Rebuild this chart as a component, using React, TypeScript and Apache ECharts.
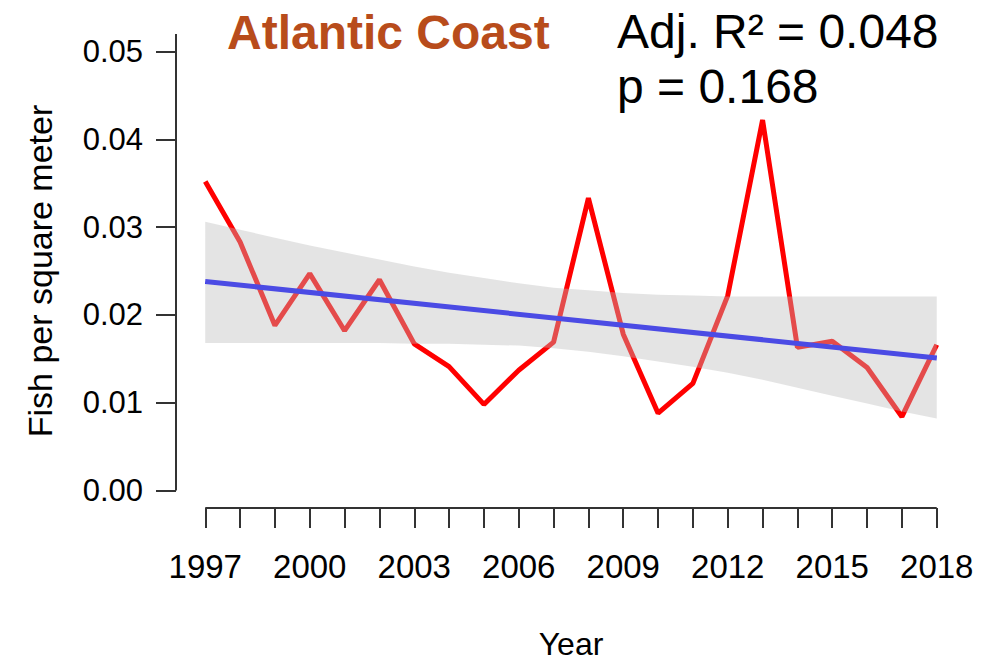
import React, { useEffect, useRef } from "react";
import * as echarts from "echarts";

const years = [1997, 1998, 1999, 2000, 2001, 2002, 2003, 2004, 2005, 2006, 2007, 2008, 2009, 2010, 2011, 2012, 2013, 2014, 2015, 2016, 2017, 2018];
const density = [0.0352, 0.0283, 0.0188, 0.0247, 0.0182, 0.024, 0.0167, 0.0141, 0.0098, 0.0137, 0.0169, 0.0333, 0.0178, 0.0088, 0.0122, 0.0222, 0.0422, 0.0163, 0.017, 0.014, 0.0084, 0.0166];
const trendYears = [1997, 2018];
const trendValues = [0.0238, 0.0151];
const ciUpper = [0.0306, 0.0297, 0.0288, 0.0279, 0.0271, 0.0263, 0.0255, 0.0248, 0.0242, 0.0236, 0.0231, 0.0228, 0.0225, 0.0223, 0.0222, 0.0221, 0.0221, 0.0221, 0.0221, 0.0221, 0.0221, 0.0221];
const ciLower = [0.0168, 0.0168, 0.0168, 0.0168, 0.0168, 0.0168, 0.0167, 0.0167, 0.0166, 0.0165, 0.0162, 0.0158, 0.0153, 0.0147, 0.0141, 0.0134, 0.0126, 0.0117, 0.0108, 0.0099, 0.009, 0.0082];
const yTicks = [0, 0.01, 0.02, 0.03, 0.04, 0.05];
const xLabelYears = [1997, 2000, 2003, 2006, 2009, 2012, 2015, 2018];
const titleText = "Atlantic Coast";
const statsText = "Adj. R² = 0.048\np = 0.168";

const FONT = "'Liberation Sans', Arial, Helvetica, sans-serif";

export default function App() {
  const ref = useRef<HTMLDivElement>(null);
  useEffect(() => {
    if (!ref.current) return;
    const chart = echarts.init(ref.current, undefined, { renderer: "svg" });
    const span = years[years.length - 1] - years[0];
    const xMin = years[0] - 0.04 * span;
    const xMax = years[years.length - 1] + 0.04 * span;
    const yMin = -0.002;
    const yMax = 0.052;
    const bandData = years.map((y, i) => [y, ciLower[i], ciUpper[i]]);
    chart.setOption({
      animation: false,
      backgroundColor: "#ffffff",
      textStyle: { fontFamily: FONT },
      title: {
        text: titleText,
        left: 222,
        top: 3,
        textStyle: { fontFamily: FONT, fontSize: 48, fontWeight: "bold", color: "#B84C1B" },
      },
      grid: { left: 176, right: 30, top: 34, bottom: 155 },
      xAxis: {
        type: "value",
        min: xMin,
        max: xMax,
        name: "Year",
        nameLocation: "middle",
        nameGap: 120,
        nameTextStyle: { fontFamily: FONT, fontSize: 32, color: "#000" },
        axisLine: { show: false, onZero: false },
        splitLine: { show: false },
        axisTick: { show: true, length: 20, customValues: years, lineStyle: { color: "#333", width: 2 } },
        axisLabel: {
          customValues: xLabelYears,
          margin: 42,
          fontFamily: FONT,
          fontSize: 33,
          color: "#000",
          formatter: (v: number) => String(Math.round(v)),
        },
      },
      yAxis: {
        type: "value",
        min: yMin,
        max: yMax,
        name: "Fish per square meter",
        nameLocation: "middle",
        nameRotate: 90,
        nameGap: 119,
        nameTextStyle: { fontFamily: FONT, fontSize: 34, color: "#000" },
        axisLine: { show: false, onZero: false },
        splitLine: { show: false },
        axisTick: { show: true, length: 20, customValues: yTicks, lineStyle: { color: "#333", width: 2 } },
        axisLabel: {
          customValues: yTicks,
          margin: 33,
          fontFamily: FONT,
          fontSize: 31,
          color: "#000",
          formatter: (v: number) => v.toFixed(2),
        },
      },
      series: [
        {
          type: "line",
          data: years.map((y, i) => [y, density[i]]),
          showSymbol: false,
          symbol: "none",
          lineStyle: { color: "#FF0000", width: 5 },
          z: 2,
        },
        {
          type: "line",
          data: trendYears.map((y, i) => [y, trendValues[i]]),
          showSymbol: false,
          symbol: "none",
          lineStyle: { color: "#0000FF", width: 5 },
          z: 2,
        },
        {
          type: "custom",
          z: 3,
          data: bandData,
          encode: { x: 0, y: [1, 2] },
          renderItem: (params: any, api: any) => {
            if (params.dataIndex !== 0) return null;
            const top = bandData.map((d) => api.coord([d[0], d[2]]));
            const bottom = bandData.map((d) => api.coord([d[0], d[1]])).reverse();
            return {
              type: "polygon",
              shape: { points: top.concat(bottom) },
              style: { fill: "rgba(187,187,187,0.4)", stroke: "none" },
            };
          },
        },
      ],
    });

    const pTop = chart.convertToPixel({ gridIndex: 0 }, [xMin, yMax]) as number[];
    const pZero = chart.convertToPixel({ gridIndex: 0 }, [xMin, yTicks[0]]) as number[];
    const pX0 = chart.convertToPixel({ gridIndex: 0 }, [years[0], yMin]) as number[];
    const pX1 = chart.convertToPixel({ gridIndex: 0 }, [years[years.length - 1], yMin]) as number[];

    chart.setOption({
      graphic: [
        {
          type: "line",
          shape: { x1: pTop[0], y1: pTop[1], x2: pZero[0], y2: pZero[1] },
          style: { stroke: "#333", lineWidth: 2 },
        },
        {
          type: "line",
          shape: { x1: pX0[0], y1: pX0[1], x2: pX1[0], y2: pX1[1] },
          style: { stroke: "#333", lineWidth: 2 },
        },
        {
          type: "text",
          x: 617,
          y: 4,
          style: {
            text: statsText,
            fontFamily: FONT,
            fontSize: 48,
            lineHeight: 55,
            fill: "#000",
          },
        },
      ],
    });

    return () => chart.dispose();
  }, []);
  return (
    <div
      ref={ref}
      style={{ position: "fixed", left: 0, top: 0, width: 996, height: 665, background: "#fff" }}
    />
  );
}
